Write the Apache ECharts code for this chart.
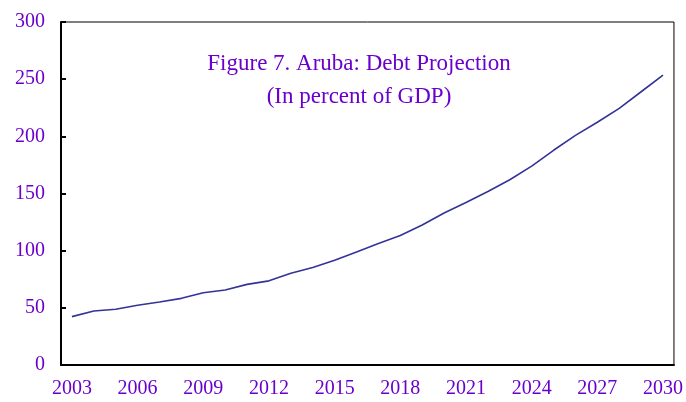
<!DOCTYPE html>
<html>
<head>
<meta charset="utf-8">
<script src="https://cdn.jsdelivr.net/npm/echarts@6/dist/echarts.min.js"></script>
<style>
  html, body { margin: 0; padding: 0; background: #fff; }
  #chart { width: 686px; height: 402px; }
</style>
</head>
<body>
<div id="chart"></div>
<script>
var years = ['2003','2004','2005','2006','2007','2008','2009','2010','2011','2012',
             '2013','2014','2015','2016','2017','2018','2019','2020','2021','2022',
             '2023','2024','2025','2026','2027','2028','2029','2030'];
var debt = [42.3, 47.2, 48.7, 52.2, 55.1, 58.3, 63.2, 65.6, 70.5, 73.6,
            80.2, 85.3, 91.6, 98.9, 106.3, 113.2, 122.5, 133.0, 142.2, 151.8,
            162.0, 174.0, 187.8, 200.8, 212.3, 224.5, 239.0, 253.6];
var yTicks = [0, 50, 100, 150, 200, 250, 300];

var purple = '#6a00cc';
var serif = '"Liberation Serif", "Times New Roman", serif';

var myChart = echarts.init(document.getElementById('chart'));
var option = {
    animation: false,
    title: {
        text: 'Figure 7. Aruba: Debt Projection\n(In percent of GDP)',
        left: 354,
        top: 42,
        textAlign: 'center',
        textStyle: {
            color: purple,
            fontFamily: serif,
            fontWeight: 'normal',
            fontSize: 23,
            lineHeight: 33
        }
    },
    grid: {
        left: 61,
        right: 11,
        top: 22,
        bottom: 37,
        show: true,
        borderColor: '#000',
        borderWidth: 1
    },
    xAxis: {
        type: 'category',
        data: years,
        boundaryGap: true,
        axisLine: { lineStyle: { color: '#000', width: 2 } },
        axisTick: { inside: true, length: 5, interval: 0, lineStyle: { color: '#000', width: 2 } },
        axisLabel: { interval: 2, color: purple, fontFamily: serif, fontSize: 20, margin: 14 },
        splitLine: { show: false }
    },
    yAxis: {
        type: 'value',
        min: yTicks[0],
        max: yTicks[yTicks.length - 1],
        interval: 50,
        axisLine: { show: true, lineStyle: { color: '#000', width: 2 } },
        axisTick: { show: true, inside: true, length: 5, lineStyle: { color: '#000', width: 2 } },
        axisLabel: { color: purple, fontFamily: serif, fontSize: 20, margin: 16 },
        splitLine: { show: false }
    },
    series: [
        {
            type: 'line',
            data: debt,
            symbol: 'none',
            lineStyle: { color: '#333399', width: 1.6 }
        }
    ]
};
myChart.setOption(option);
</script>
</body>
</html>
